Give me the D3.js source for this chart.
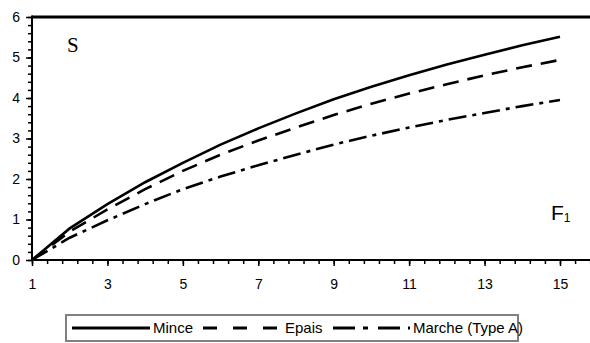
<!DOCTYPE html>
<html>
<head>
<meta charset="utf-8">
<script src="https://cdn.jsdelivr.net/npm/d3@7"></script>
<style>
  html, body { margin: 0; padding: 0; background: #fff; }
  svg { display: block; }
</style>
</head>
<body>
<svg id="chart"></svg>
<script>
// values
const xValues = [1, 2, 3, 4, 5, 6, 7, 8, 9, 10, 11, 12, 13, 14, 15];
const mince = [0, 0.78, 1.38, 1.92, 2.40, 2.85, 3.25, 3.62, 3.97, 4.28, 4.56, 4.83, 5.07, 5.30, 5.51];
const epais = [0, 0.70, 1.25, 1.75, 2.20, 2.60, 2.95, 3.27, 3.58, 3.86, 4.11, 4.34, 4.56, 4.76, 4.94];
const marche = [0, 0.55, 0.98, 1.38, 1.75, 2.06, 2.34, 2.60, 2.85, 3.07, 3.27, 3.46, 3.63, 3.80, 3.95];
const seriesNames = ["Mince", "Epais", "Marche (Type A)"];
const xTickLabels = [1, 3, 5, 7, 9, 11, 13, 15];
const yTickLabels = [0, 1, 2, 3, 4, 5, 6];

const width = 590, height = 343;
const svg = d3.select("#chart").attr("width", width).attr("height", height);

const x = d3.scaleLinear().domain([1, 16]).range([32, 597.7]);
const y = d3.scaleLinear().domain([0, 6]).range([260, 17]);

const dashes = ["none", "16,9", "18,6,4,6"];
const legendDashes = ["none", "14,16", "22,8,5,10"];
const seriesData = [mince, epais, marche];

// plot frame: thick top line
svg.append("line")
  .attr("x1", x(1)).attr("x2", 600)
  .attr("y1", y(6)).attr("y2", y(6))
  .attr("stroke", "#000").attr("stroke-width", 3);

// y axis with minor ticks
const yMinor = d3.range(0, 6.001, 0.2);
svg.append("g")
  .attr("transform", "translate(" + x(1) + ",0)")
  .call(d3.axisLeft(y).tickValues(yMinor).tickSize(4).tickFormat(""))
  .call(g => g.select(".domain").remove())
  .selectAll("line").attr("stroke-width", 1.5);
svg.append("g")
  .attr("transform", "translate(" + x(1) + ",0)")
  .call(d3.axisLeft(y).tickValues(yTickLabels).tickSize(6).tickPadding(6).tickFormat(d3.format("d")))
  .call(g => g.select(".domain").remove())
  .call(g => g.selectAll("line").attr("stroke-width", 1.5))
  .call(g => g.selectAll("text")
    .attr("font-family", "'Liberation Sans', Arial, sans-serif")
    .attr("font-size", 14).attr("fill", "#000"));

// x axis with minor ticks
const xMinor = d3.range(1, 16.001, 0.4);
svg.append("g")
  .attr("transform", "translate(0," + y(0) + ")")
  .call(d3.axisBottom(x).tickValues(xMinor).tickSize(4).tickFormat(""))
  .call(g => g.select(".domain").remove())
  .selectAll("line").attr("stroke-width", 1.5);
svg.append("g")
  .attr("transform", "translate(0," + y(0) + ")")
  .call(d3.axisBottom(x).tickValues(xTickLabels).tickSize(6).tickPadding(13).tickFormat(d3.format("d")))
  .call(g => g.select(".domain").remove())
  .call(g => g.selectAll("line").attr("stroke-width", 1.5))
  .call(g => g.selectAll("text")
    .attr("font-family", "'Liberation Sans', Arial, sans-serif")
    .attr("font-size", 14).attr("fill", "#000"));

svg.append("line")
  .attr("x1", x(1)).attr("x2", x(1))
  .attr("y1", y(6) - 1.5).attr("y2", y(0) + 1)
  .attr("stroke", "#000").attr("stroke-width", 2);
svg.append("line")
  .attr("x1", x(1)).attr("x2", 600)
  .attr("y1", y(0)).attr("y2", y(0))
  .attr("stroke", "#000").attr("stroke-width", 2);

// curves
const line = d3.line()
  .x((d, i) => x(xValues[i]))
  .y(d => y(d));

seriesData.forEach((vals, i) => {
  svg.append("path")
    .datum(vals)
    .attr("d", line)
    .attr("fill", "none")
    .attr("stroke", "#000")
    .attr("stroke-width", 2.6)
    .attr("stroke-dasharray", dashes[i]);
});

// in-plot labels
svg.append("text")
  .attr("x", 67).attr("y", 52)
  .attr("font-family", "'Liberation Serif', 'Times New Roman', serif")
  .attr("font-size", 21)
  .text("S");

const f1 = svg.append("text")
  .attr("x", 551).attr("y", 220)
  .attr("font-family", "'Liberation Sans', Arial, sans-serif")
  .attr("font-size", 21)
  .text("F");
f1.append("tspan")
  .attr("font-size", 12)
  .attr("dy", 1.5)
  .text("1");

// legend
const legend = svg.append("g");
legend.append("rect")
  .attr("x", 66).attr("y", 315)
  .attr("width", 452).attr("height", 26)
  .attr("fill", "#fff")
  .attr("stroke", "#808080").attr("stroke-width", 2);

const legendItems = [
  {x0: 72, x1: 150, tx: 153},
  {x0: 203, x1: 282, tx: 285},
  {x0: 333, x1: 410, tx: 413}
];
legendItems.forEach((it, i) => {
  legend.append("line")
    .attr("x1", it.x0).attr("x2", it.x1)
    .attr("y1", 328).attr("y2", 328)
    .attr("stroke", "#000").attr("stroke-width", 3)
    .attr("stroke-dasharray", legendDashes[i]);
  legend.append("text")
    .attr("x", it.tx).attr("y", 333)
    .attr("font-family", "'Liberation Sans', Arial, sans-serif")
    .attr("font-size", 15)
    .text(seriesNames[i]);
});
</script>
</body>
</html>
